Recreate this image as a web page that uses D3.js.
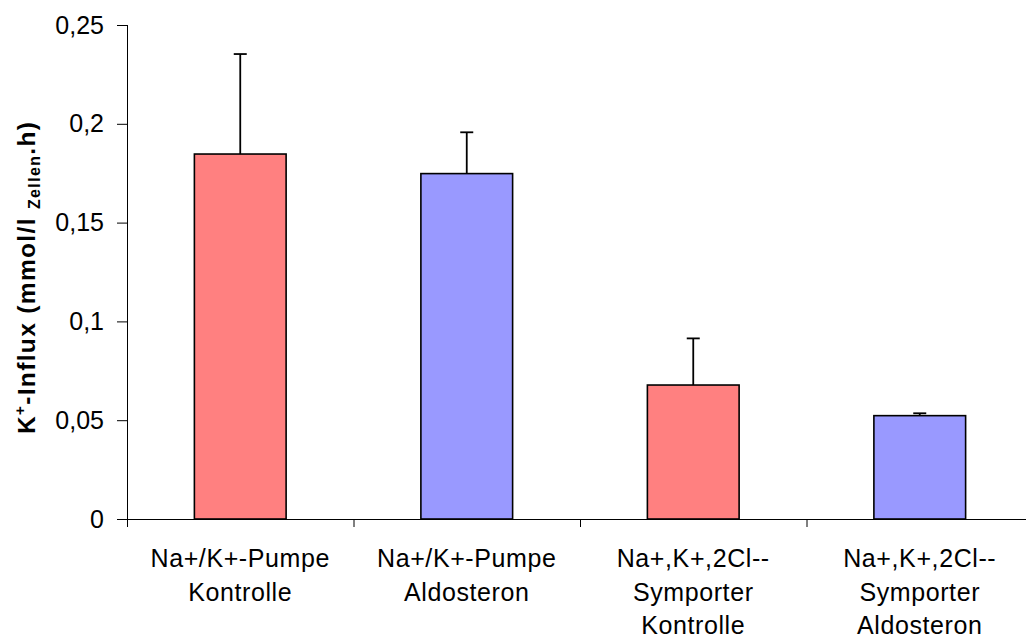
<!DOCTYPE html>
<html>
<head>
<meta charset="utf-8">
<script src="https://cdn.jsdelivr.net/npm/d3@7"></script>
<style>
  html, body { margin: 0; padding: 0; background: #fff; }
  svg { display: block; }
  text { font-family: "Liberation Sans", Arial, sans-serif; fill: #000; }
</style>
</head>
<body>
<svg id="chart" width="1026" height="639"></svg>
<script>
const categories = [
  ["Na+/K+-Pumpe", "Kontrolle"],
  ["Na+/K+-Pumpe", "Aldosteron"],
  ["Na+,K+,2Cl--", "Symporter", "Kontrolle"],
  ["Na+,K+,2Cl--", "Symporter", "Aldosteron"]
];
const values = [0.1847, 0.1748, 0.0678, 0.0523];
const errors = [0.0506, 0.0209, 0.0236, 0.0012];
const colors = ["#FF8080", "#9999FF", "#FF8080", "#9999FF"];
const yTicks = [0, 0.05, 0.1, 0.15, 0.2, 0.25];
const yTickLabels = ["0", "0,05", "0,1", "0,15", "0,2", "0,25"];

const svg = d3.select("#chart");
const mLeft = 127, mRight = 1033, mTop = 25, mBottom = 519;

const x = d3.scaleBand().domain(d3.range(categories.length)).range([mLeft, mRight]).padding(0);
const y = d3.scaleLinear().domain([0, 0.25]).range([mBottom, mTop]);
const barW = x.bandwidth() * 0.405;

// bars
svg.append("g").selectAll("rect").data(values).join("rect")
  .attr("x", (d, i) => x(i) + x.bandwidth() / 2 - barW / 2)
  .attr("y", d => y(d))
  .attr("width", barW)
  .attr("height", d => y(0) - y(d))
  .attr("fill", (d, i) => colors[i])
  .attr("stroke", "#000")
  .attr("stroke-width", 1.6);

// error bars
const eg = svg.append("g").attr("stroke", "#000").attr("stroke-width", 1.8);
values.forEach((v, i) => {
  const cx = x(i) + x.bandwidth() / 2;
  eg.append("line").attr("x1", cx).attr("x2", cx).attr("y1", y(v)).attr("y2", y(v + errors[i]));
  eg.append("line").attr("x1", cx - 6.5).attr("x2", cx + 6.5).attr("y1", y(v + errors[i])).attr("y2", y(v + errors[i]));
});

// y axis
const yAxis = d3.axisLeft(y).tickValues(yTicks).tickFormat((d, i) => yTickLabels[i]).tickSize(10).tickPadding(13);
const yg = svg.append("g").attr("transform", `translate(${mLeft},0)`).call(yAxis);
yg.select(".domain").attr("d", `M0.5,${mTop}V${mBottom + 8}`).attr("stroke", "#000");
yg.selectAll(".tick line").attr("stroke", "#000");
yg.selectAll(".tick text").style("font-size", "25px").style("font-family", "'Liberation Sans', Arial, sans-serif");

// x axis line and ticks
const xg = svg.append("g");
xg.append("line").attr("x1", mLeft).attr("x2", 1026).attr("y1", mBottom + 0.5).attr("y2", mBottom + 0.5).attr("stroke", "#000");
d3.range(1, categories.length).forEach(i => {
  xg.append("line").attr("x1", x(i) + 0.5).attr("x2", x(i) + 0.5).attr("y1", mBottom).attr("y2", mBottom + 8).attr("stroke", "#000");
});

// x labels
categories.forEach((lines, i) => {
  const cx = x(i) + x.bandwidth() / 2;
  const t = svg.append("text").attr("text-anchor", "middle").style("font-size", "25px").style("letter-spacing", "0.6px");
  lines.forEach((ln, j) => {
    t.append("tspan").attr("x", cx).attr("y", 567 + j * 33.5).text(ln);
  });
});

// y label
const yl = svg.append("text")
  .attr("transform", "translate(35,278) rotate(-90)")
  .attr("text-anchor", "middle")
  .style("font-size", "24.5px").style("font-weight", "bold")
  .attr("textLength", 312).attr("lengthAdjust", "spacing");
yl.append("tspan").text("K");
yl.append("tspan").attr("dy", -10).style("font-size", "15px").text("+");
yl.append("tspan").attr("dy", 10).text("-Influx (mmol/l ");
yl.append("tspan").attr("dy", 5).style("font-size", "16px").text("Zellen");
yl.append("tspan").attr("dy", -5).text(".h)");
</script>
</body>
</html>
